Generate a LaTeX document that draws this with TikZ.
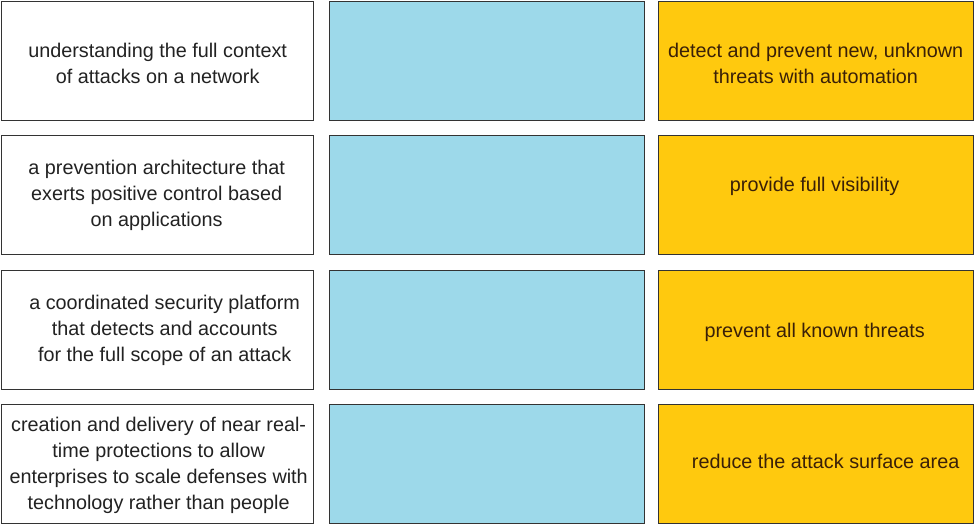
\documentclass[tikz,border=0pt]{standalone}
\usepackage{fontspec}
\setmainfont{Liberation Sans}
\definecolor{boxline}{HTML}{333333}
\definecolor{lefttext}{HTML}{222222}
\definecolor{bluefill}{HTML}{9DD9EA}
\definecolor{yellowfill}{HTML}{FFC90E}
\definecolor{righttext}{HTML}{3A2008}
\tikzset{
  cell/.style={draw=boxline, line width=1.3pt, minimum width=312pt, minimum height=119pt, inner sep=0pt, anchor=north west},
  leftcell/.style={cell, fill=white},
  bluecell/.style={cell, fill=bluefill, minimum width=315pt},
  yellowcell/.style={cell, fill=yellowfill, minimum width=315pt},
  celltext/.style={align=center, inner sep=0pt, font=\fontsize{19.8}{26}\selectfont},
  lefttxt/.style={celltext, text=lefttext},
  righttxt/.style={celltext, text=righttext}
}
\begin{document}
\begin{tikzpicture}[x=1pt,y=-1pt]
\useasboundingbox (0,0) rectangle (974,525);
% row 1
\node[leftcell] (l1) at (1,1) {};
\node[bluecell] (b1) at (328.5,1) {};
\node[yellowcell] (y1) at (657.5,1) {};
% row 2
\node[leftcell] (l2) at (1,135) {};
\node[bluecell] (b2) at (328.5,135) {};
\node[yellowcell] (y2) at (657.5,135) {};
% row 3
\node[leftcell] (l3) at (1,270) {};
\node[bluecell] (b3) at (328.5,270) {};
\node[yellowcell] (y3) at (657.5,270) {};
% row 4
\node[leftcell] (l4) at (1,404) {};
\node[bluecell] (b4) at (328.5,404) {};
\node[yellowcell] (y4) at (657.5,404) {};
% texts
\node[lefttxt] (tl1) at ([yshift=-2pt]l1.center) {understanding the full context\\of attacks on a network};
\node[lefttxt] (tl2) at ([xshift=-1pt]l2.center) {a prevention architecture that\\exerts positive control based\\on applications};
\node[lefttxt] (tl3) at ([xshift=7pt]l3.center) {a coordinated security platform\\that detects and accounts\\for the full scope of an attack};
\node[lefttxt] (tl4) at ([xshift=1pt,yshift=-1pt]l4.center) {creation and delivery of near real-\\time protections to allow\\enterprises to scale defenses with\\technology rather than people};
\node[righttxt] (ty1) at ([yshift=-2pt]y1.center) {detect and prevent new, unknown\\threats with automation};
\node[righttxt] (ty2) at ([xshift=-1pt,yshift=9pt]y2.center) {provide full visibility};
\node[righttxt] (ty3) at ([xshift=-1pt,yshift=-2pt]y3.center) {prevent all known threats};
\node[righttxt] (ty4) at ([xshift=10pt,yshift=3pt]y4.center) {reduce the attack surface area};
\end{tikzpicture}
\end{document}
